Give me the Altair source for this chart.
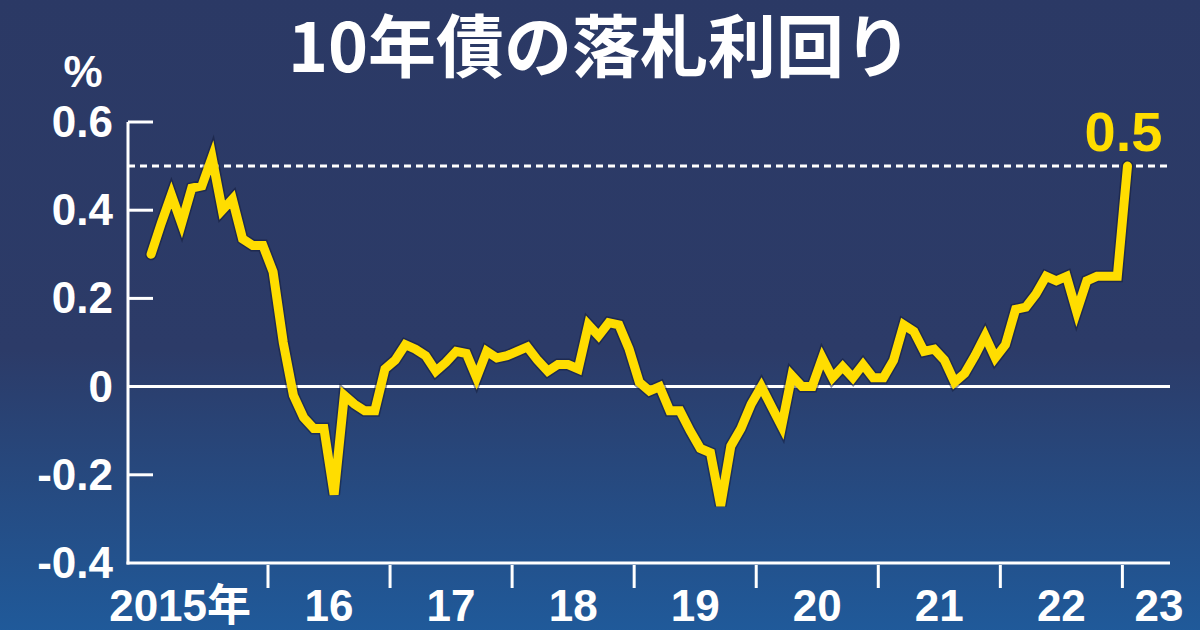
import altair as alt
import pandas as pd

# Monthly 10-year JGB auction yields (%), Jan 2015 - Jan 2023
months = pd.date_range("2015-01-01", "2023-01-01", freq="MS").strftime("%Y-%m").tolist()
yields = [
    0.30, 0.37, 0.435, 0.37, 0.45, 0.455, 0.52, 0.40, 0.425, 0.335, 0.32, 0.32,      # 2015
    0.26, 0.10, -0.02, -0.07, -0.095, -0.095, -0.245, -0.02, -0.04, -0.055, -0.055, 0.04,  # 2016
    0.06, 0.095, 0.085, 0.07, 0.035, 0.055, 0.08, 0.075, 0.02, 0.08, 0.065, 0.07,     # 2017
    0.08, 0.09, 0.06, 0.035, 0.05, 0.05, 0.04, 0.14, 0.115, 0.145, 0.14, 0.085,       # 2018
    0.01, -0.01, 0.0, -0.055, -0.055, -0.10, -0.14, -0.15, -0.27, -0.135, -0.095, -0.04,  # 2019
    0.0, -0.045, -0.09, 0.025, 0.0, 0.0, 0.065, 0.02, 0.045, 0.02, 0.05, 0.02,        # 2020
    0.02, 0.06, 0.14, 0.125, 0.08, 0.085, 0.06, 0.01, 0.03, 0.07, 0.115, 0.065,       # 2021
    0.095, 0.175, 0.18, 0.21, 0.25, 0.24, 0.25, 0.17, 0.24, 0.25, 0.25, 0.25,         # 2022
    0.50,                                                                            # 2023
]

y_ticks = [0.6, 0.4, 0.2, -0.2]
y_tick_labels = ["0.6", "0.4", "0.2", "0", "-0.2", "-0.4"]
y_label_values = [0.6, 0.4, 0.2, 0.0, -0.2, -0.4]
year_ticks = [2016, 2017, 2018, 2019, 2020, 2021, 2022, 2023]
year_labels = ["2015年", "16", "17", "18", "19", "20", "21", "22", "23"]
year_label_pos = [2015.28, 2016.5, 2017.5, 2018.5, 2019.5, 2020.5, 2021.5, 2022.5, 2023.3]
reference_level = 0.5
last_label = "0.5"

W, H = 1042, 441
LATIN = "Liberation Sans, Noto Sans CJK JP, sans-serif"
YELLOW = "#ffdd00"

def month_pos(m):
    y, mo = m.split("-")
    return int(y) + (int(mo) - 0.5) / 12

series = pd.DataFrame({"t": [month_pos(m) for m in months], "v": yields})

xs = alt.Scale(domain=[2014.853, 2023.39], nice=False, zero=False)
ys = alt.Scale(domain=[-0.4, 0.6], nice=False, zero=False)
one = pd.DataFrame({"a": [0]})

background = alt.Chart(one).mark_rect(
    fill=alt.Gradient(
        gradient="linear", x1=0, x2=0, y1=0, y2=1,
        stops=[
            alt.GradientStop(color="#2b3965", offset=0),
            alt.GradientStop(color="#2c3b68", offset=0.55),
            alt.GradientStop(color="#1f5b9c", offset=1),
        ],
    )
).encode(x=alt.value(-140), x2=alt.value(W + 40), y=alt.value(-130), y2=alt.value(H + 80))

y_axis_line = alt.Chart(one).mark_rule(color="white", strokeWidth=3).encode(
    x=alt.value(0), y=alt.value(0), y2=alt.value(H + 1.5)
)
x_axis_line = alt.Chart(one).mark_rule(color="white", strokeWidth=3).encode(
    x=alt.value(-1.5), x2=alt.value(W), y=alt.value(H)
)

ytick_df = pd.DataFrame({"v": y_ticks})
y_tick_marks = alt.Chart(ytick_df).mark_rule(color="white", strokeWidth=3).encode(
    x=alt.value(0), x2=alt.value(25), y=alt.Y("v:Q", scale=ys, axis=None)
)

ylab_df = pd.DataFrame({"v": y_label_values, "label": y_tick_labels})
y_labels = alt.Chart(ylab_df).mark_text(
    font=LATIN, fontSize=44, fontWeight="bold", color="white",
    align="right", baseline="middle", dx=-15, dy=2,
).encode(x=alt.value(0), y=alt.Y("v:Q", scale=ys, axis=None), text="label:N")

xtick_df = pd.DataFrame({"t": year_ticks})
x_tick_marks = alt.Chart(xtick_df).mark_rule(color="white", strokeWidth=3).encode(
    x=alt.X("t:Q", scale=xs, axis=None), y=alt.value(H + 2), y2=alt.value(H + 25)
)

xlab_df = pd.DataFrame({"t": year_label_pos, "label": year_labels})
x_labels = alt.Chart(xlab_df).mark_text(
    font=LATIN, fontSize=44, fontWeight="bold", color="white",
    align="center", baseline="alphabetic",
).encode(x=alt.X("t:Q", scale=xs, axis=None), y=alt.value(H + 58), text="label:N")

zero_line = alt.Chart(pd.DataFrame({"v": [0.0]})).mark_rule(color="white", strokeWidth=3).encode(
    x=alt.value(0), x2=alt.value(W), y=alt.Y("v:Q", scale=ys, axis=None)
)

ref_line = alt.Chart(pd.DataFrame({"v": [reference_level]})).mark_rule(
    color="white", strokeWidth=3, strokeDash=[7, 5]
).encode(x=alt.value(0), x2=alt.value(W), y=alt.Y("v:Q", scale=ys, axis=None))

line_shadow = alt.Chart(series).mark_line(
    color="#121a38", strokeWidth=12, opacity=0.5, strokeCap="round"
).encode(x=alt.X("t:Q", scale=xs, axis=None), y=alt.Y("v:Q", scale=ys, axis=None))

line = alt.Chart(series).mark_line(
    color=YELLOW, strokeWidth=9, strokeCap="round"
).encode(x=alt.X("t:Q", scale=xs, axis=None), y=alt.Y("v:Q", scale=ys, axis=None))

last_df = series.tail(1).assign(label=last_label)
last_text = alt.Chart(last_df).mark_text(
    font="Liberation Sans, sans-serif", fontSize=56, fontWeight="bold", color=YELLOW,
    align="center", baseline="alphabetic", dx=-4, dy=-15,
).encode(x=alt.X("t:Q", scale=xs, axis=None), y=alt.Y("v:Q", scale=ys, axis=None), text="label:N")

title = alt.Chart(one).mark_text(
    text="10年債の落札利回り", font="Noto Sans CJK JP, sans-serif", fontSize=68,
    fontWeight="bold", color="white", align="center", baseline="alphabetic",
).encode(x=alt.value(472), y=alt.value(-50))

unit = alt.Chart(one).mark_text(
    text="%", font=LATIN, fontSize=44, fontWeight="bold", color="white",
    align="center", baseline="alphabetic",
).encode(x=alt.value(-45), y=alt.value(-35))

chart = alt.layer(
    background, ref_line, zero_line, y_axis_line, x_axis_line, y_tick_marks, x_tick_marks,
    y_labels, x_labels, line_shadow, line, last_text, title, unit,
).properties(
    width=W, height=H,
    autosize=alt.AutoSizeParams(type="none"),
    padding={"left": 128, "top": 122, "right": 30, "bottom": 67},
).configure(background="#2b3965").configure_view(stroke=None)

chart.save("out.html", embed_options={"renderer": "svg", "actions": False})
